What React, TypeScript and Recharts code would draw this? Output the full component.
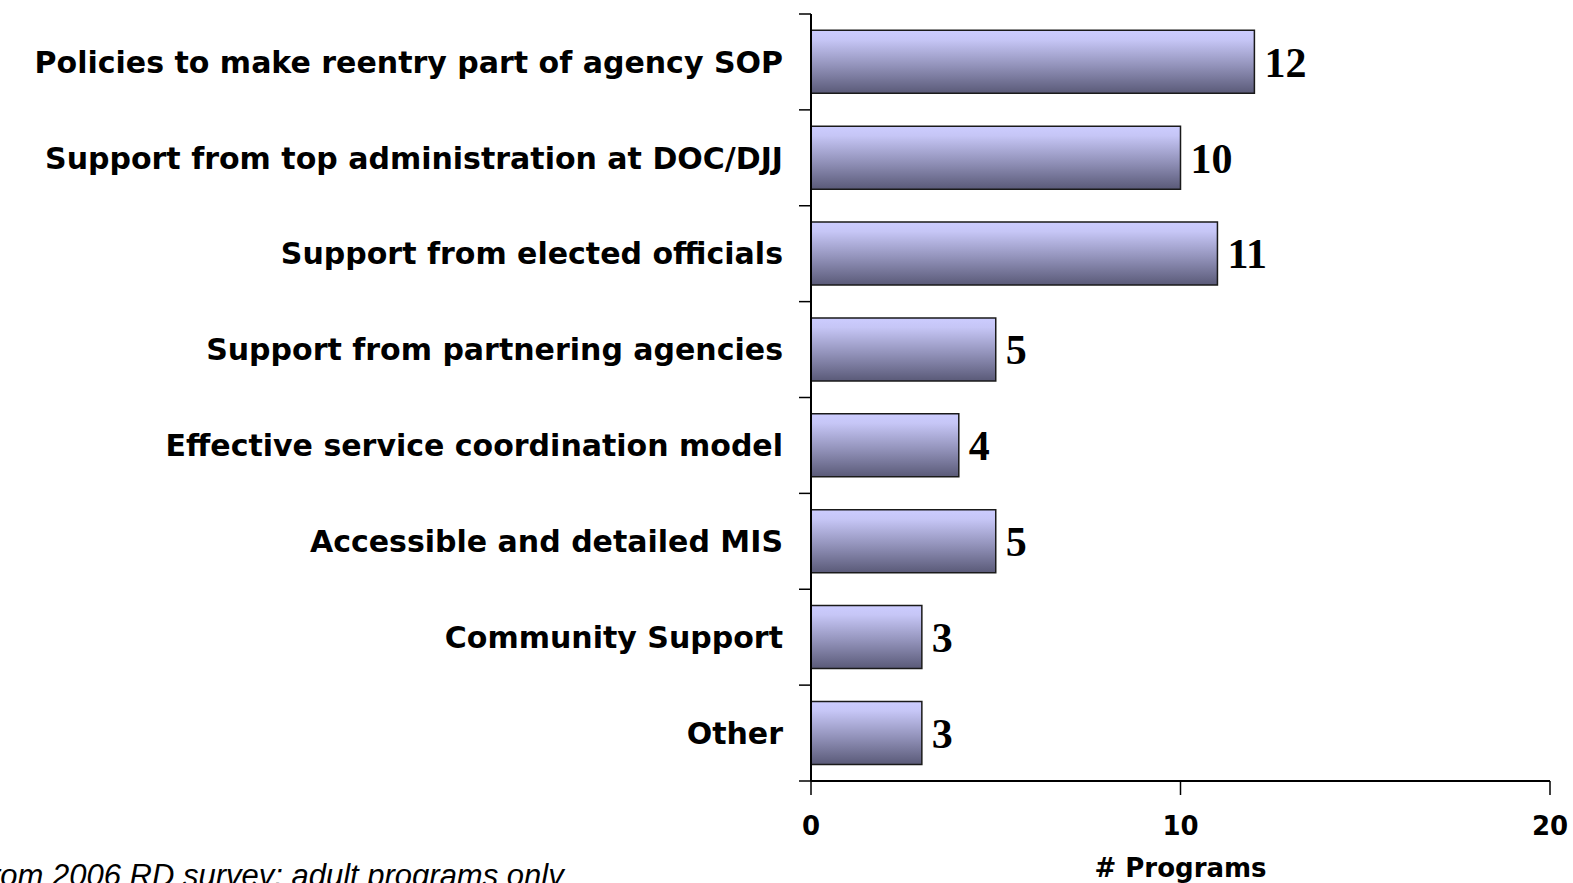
import React from "react";
import { BarChart, Bar, XAxis, YAxis, LabelList } from "recharts";

const categories = [
  "Policies to make reentry part of agency SOP",
  "Support from top administration at DOC/DJJ",
  "Support from elected officials",
  "Support from partnering agencies",
  "Effective service coordination model",
  "Accessible and detailed MIS",
  "Community Support",
  "Other",
];
const programCounts = [12, 10, 11, 5, 4, 5, 3, 3];
const xTicks = [0, 10, 20];

const data = categories.map((name, i) => ({ name, value: programCounts[i] }));

const W = 1573;
const H = 883;
const xAxisHeight = 102;
const margin = { top: 14, right: 23, bottom: 0, left: 0 };
const yAxisWidth = 811;
const band = (H - margin.top - xAxisHeight) / categories.length;
const sansFont = "'DejaVu Sans', Verdana, sans-serif";

const CatTick = (props: any) => {
  const { x, y, payload, index } = props;
  const top = y - band / 2;
  const bottom = y + band / 2;
  return (
    <g>
      <line x1={x - 4} x2={x + 8} y1={top} y2={top} stroke="#000" strokeWidth={1.5} />
      {index === categories.length - 1 && (
        <line x1={x - 4} x2={x + 8} y1={bottom} y2={bottom} stroke="#000" strokeWidth={1.5} />
      )}
      <text
        x={x - 20}
        y={y}
        dy="0.36em"
        textAnchor="end"
        fontFamily={sansFont}
        fontWeight="bold"
        fontSize={30}
        fill="#000"
      >
        {payload.value}
      </text>
    </g>
  );
};

export default function App() {
  return (
    <div style={{ position: "absolute", left: 0, top: 0, width: W, height: H, overflow: "hidden", background: "#fff" }}>
      <BarChart width={W} height={H} data={data} layout="vertical" margin={margin} barCategoryGap="17%">
        <defs>
          <linearGradient id="barGrad" x1="0" y1="0" x2="0" y2="1">
            <stop offset="0%" stopColor="#ccccff" />
            <stop offset="15%" stopColor="#c6c6f6" />
            <stop offset="55%" stopColor="#9494bc" />
            <stop offset="100%" stopColor="#5a5a78" />
          </linearGradient>
        </defs>
        <XAxis
          type="number"
          domain={[0, 20]}
          ticks={xTicks}
          axisLine={{ stroke: "#000", strokeWidth: 2 }}
          tickLine={{ stroke: "#000", strokeWidth: 1.5 }}
          tickSize={14}
          tick={{ fontFamily: sansFont, fontWeight: "bold", fontSize: 26, fill: "#000", dy: 20 }}
          height={xAxisHeight}
          label={{
            value: "# Programs",
            position: "insideBottom",
            offset: 6,
            style: { fontFamily: sansFont, fontWeight: "bold", fontSize: 26, fill: "#000" },
          }}
        />
        <YAxis
          type="category"
          dataKey="name"
          width={yAxisWidth}
          axisLine={{ stroke: "#000", strokeWidth: 2 }}
          tickLine={false}
          tick={<CatTick />}
          interval={0}
        />
        <Bar dataKey="value" fill="url(#barGrad)" stroke="#1a1a1a" strokeWidth={1.5} isAnimationActive={false}>
          <LabelList
            dataKey="value"
            position="right"
            offset={10}
            style={{ fontFamily: "'Liberation Serif', 'Times New Roman', serif", fontWeight: "bold", fontSize: 42, fill: "#000" }}
          />
        </Bar>
      </BarChart>
      <div
        style={{
          position: "absolute",
          left: -29,
          top: 858,
          fontFamily: "'Liberation Sans', Arial, sans-serif",
          fontStyle: "italic",
          fontSize: 31,
          whiteSpace: "nowrap",
          color: "#000",
        }}
      >
        From 2006 RD survey: adult programs only
      </div>
    </div>
  );
}
